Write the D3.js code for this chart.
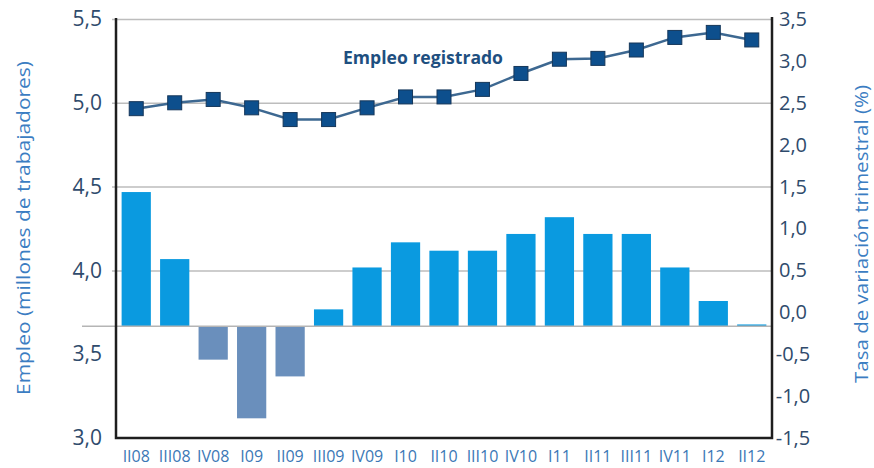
<!DOCTYPE html>
<html>
<head>
<meta charset="utf-8">
<script src="https://cdn.jsdelivr.net/npm/d3@7"></script>
<style>
  body { margin: 0; background: #fff; }
  svg text { font-family: "Open Sans", "Noto Sans", sans-serif; }
</style>
</head>
<body>
<div id="chart"></div>
<script>
// quarters
const categories = ["II08","III08","IV08","I09","II09","III09","IV09","I10","II10","III10","IV10","I11","II11","III11","IV11","I12","II12"];
// empleo registrado (millones)
const empleo = [4.965, 5.00, 5.02, 4.97, 4.90, 4.90, 4.97, 5.035, 5.035, 5.08, 5.175, 5.26, 5.265, 5.315, 5.39, 5.42, 5.375];
// tasa de variacion trimestral (%)
const tasa = [1.6, 0.8, -0.4, -1.1, -0.6, 0.2, 0.7, 1.0, 0.9, 0.9, 1.1, 1.3, 1.1, 1.1, 0.7, 0.3, 0.02];
const leftTicks = [3.0, 3.5, 4.0, 4.5, 5.0, 5.5];
const leftGrid = [4.0, 4.5, 5.0, 5.5];
const rightTicks = [-1.5, -1.0, -0.5, 0.0, 0.5, 1.0, 1.5, 2.0, 2.5, 3.0, 3.5];

const width = 874, height = 468;
const plotLeft = 116, plotRight = 772, plotTop = 19, plotBottom = 438;

const es = d3.formatLocale({decimal: ",", thousands: ".", grouping: [3], currency: ["", "€"], minus: "-"});
const fmt = es.format(".1f");

const svg = d3.select("#chart").append("svg")
  .attr("width", width).attr("height", height);

const x = d3.scaleBand().domain(categories).range([117, 771])
  .paddingInner(0.24).paddingOuter(0.12);
const yLeft = d3.scaleLinear().domain([3.0, 5.5]).range([plotBottom, plotTop]);
// bars sit on their own axis: zero lines up with ~3.67 on the left scale
const yBar = d3.scaleLinear().domain([-1.335, 3.665]).range([plotBottom, plotTop]);
const yRight = d3.scaleLinear().domain([-1.5, 3.5]).range([plotBottom, plotTop]);

// grid lines
svg.append("g")
  .attr("transform", "translate(" + plotRight + ",0)")
  .call(d3.axisLeft(yLeft).tickValues(leftGrid).tickSize(plotRight - 112).tickFormat(""))
  .call(g => g.select(".domain").remove())
  .selectAll("line").attr("stroke", "#bdbdbd").attr("stroke-width", 1.5);

// bars
svg.append("g").selectAll("rect")
  .data(tasa)
  .join("rect")
  .attr("x", (d, i) => x(categories[i]))
  .attr("width", x.bandwidth())
  .attr("y", d => yBar(Math.max(0, d)))
  .attr("height", d => Math.abs(yBar(d) - yBar(0)))
  .attr("fill", d => d < 0 ? "#6a8fbc" : "#0a9ae0");

// zero line of bars
svg.append("line")
  .attr("x1", 82).attr("x2", plotRight)
  .attr("y1", yBar(0)).attr("y2", yBar(0))
  .attr("stroke", "#b5b5b5").attr("stroke-width", 1.5);

// frame
svg.append("path")
  .attr("d", `M${plotLeft},${plotTop - 1}V${plotBottom}H${plotRight}V${plotTop - 2}`)
  .attr("fill", "none").attr("stroke", "#1e1e1e").attr("stroke-width", 2.5);

// left axis labels
svg.append("g")
  .attr("transform", "translate(" + plotLeft + ",0)")
  .call(d3.axisLeft(yLeft).tickValues(leftTicks).tickSize(0).tickPadding(14).tickFormat(fmt))
  .call(g => g.select(".domain").remove())
  .selectAll("text")
  .style("font-size", "21px").attr("fill", "#2f4b6c");

// right axis labels
svg.append("g")
  .attr("transform", "translate(" + plotRight + ",0)")
  .call(d3.axisRight(yRight).tickValues(rightTicks).tickSize(0).tickPadding(21).tickFormat(fmt))
  .call(g => g.select(".domain").remove())
  .selectAll("text")
  .attr("text-anchor", "middle")
  .style("font-size", "20px").attr("fill", "#2f4b6c");

// bottom labels
svg.append("g")
  .attr("transform", "translate(0," + plotBottom + ")")
  .call(d3.axisBottom(x).tickSize(0).tickPadding(13))
  .call(g => g.select(".domain").remove())
  .selectAll("text")
  .style("font-size", "16px").attr("fill", "#3b78b6");

// empleo line
const line = d3.line()
  .x((d, i) => x(categories[i]) + x.bandwidth() / 2)
  .y(d => yLeft(d));

svg.append("path")
  .datum(empleo)
  .attr("d", line)
  .attr("fill", "none")
  .attr("stroke", "#3d6891")
  .attr("stroke-width", 2.5);

const ms = 14;
svg.append("g").selectAll("rect")
  .data(empleo)
  .join("rect")
  .attr("x", (d, i) => x(categories[i]) + x.bandwidth() / 2 - ms / 2)
  .attr("y", d => yLeft(d) - ms / 2)
  .attr("width", ms).attr("height", ms)
  .attr("fill", "#0d4f8d")
  .attr("stroke", "#16375a").attr("stroke-width", 1);

// series label
svg.append("text")
  .attr("x", 343).attr("y", 64)
  .attr("textLength", 160).attr("lengthAdjust", "spacingAndGlyphs")
  .style("font-size", "17px").style("font-weight", "bold")
  .attr("fill", "#1e4f80")
  .text("Empleo registrado");

// axis titles
svg.append("text")
  .attr("transform", "translate(30,228) rotate(-90)")
  .attr("text-anchor", "middle")
  .attr("textLength", 334).attr("lengthAdjust", "spacingAndGlyphs")
  .style("font-size", "19px").attr("fill", "#3b7dc2")
  .text("Empleo (millones de trabajadores)");

svg.append("text")
  .attr("transform", "translate(868,234) rotate(-90)")
  .attr("text-anchor", "middle")
  .attr("textLength", 298).attr("lengthAdjust", "spacingAndGlyphs")
  .style("font-size", "18px").attr("fill", "#3b7dc2")
  .text("Tasa de variación trimestral (%)");
</script>
</body>
</html>
